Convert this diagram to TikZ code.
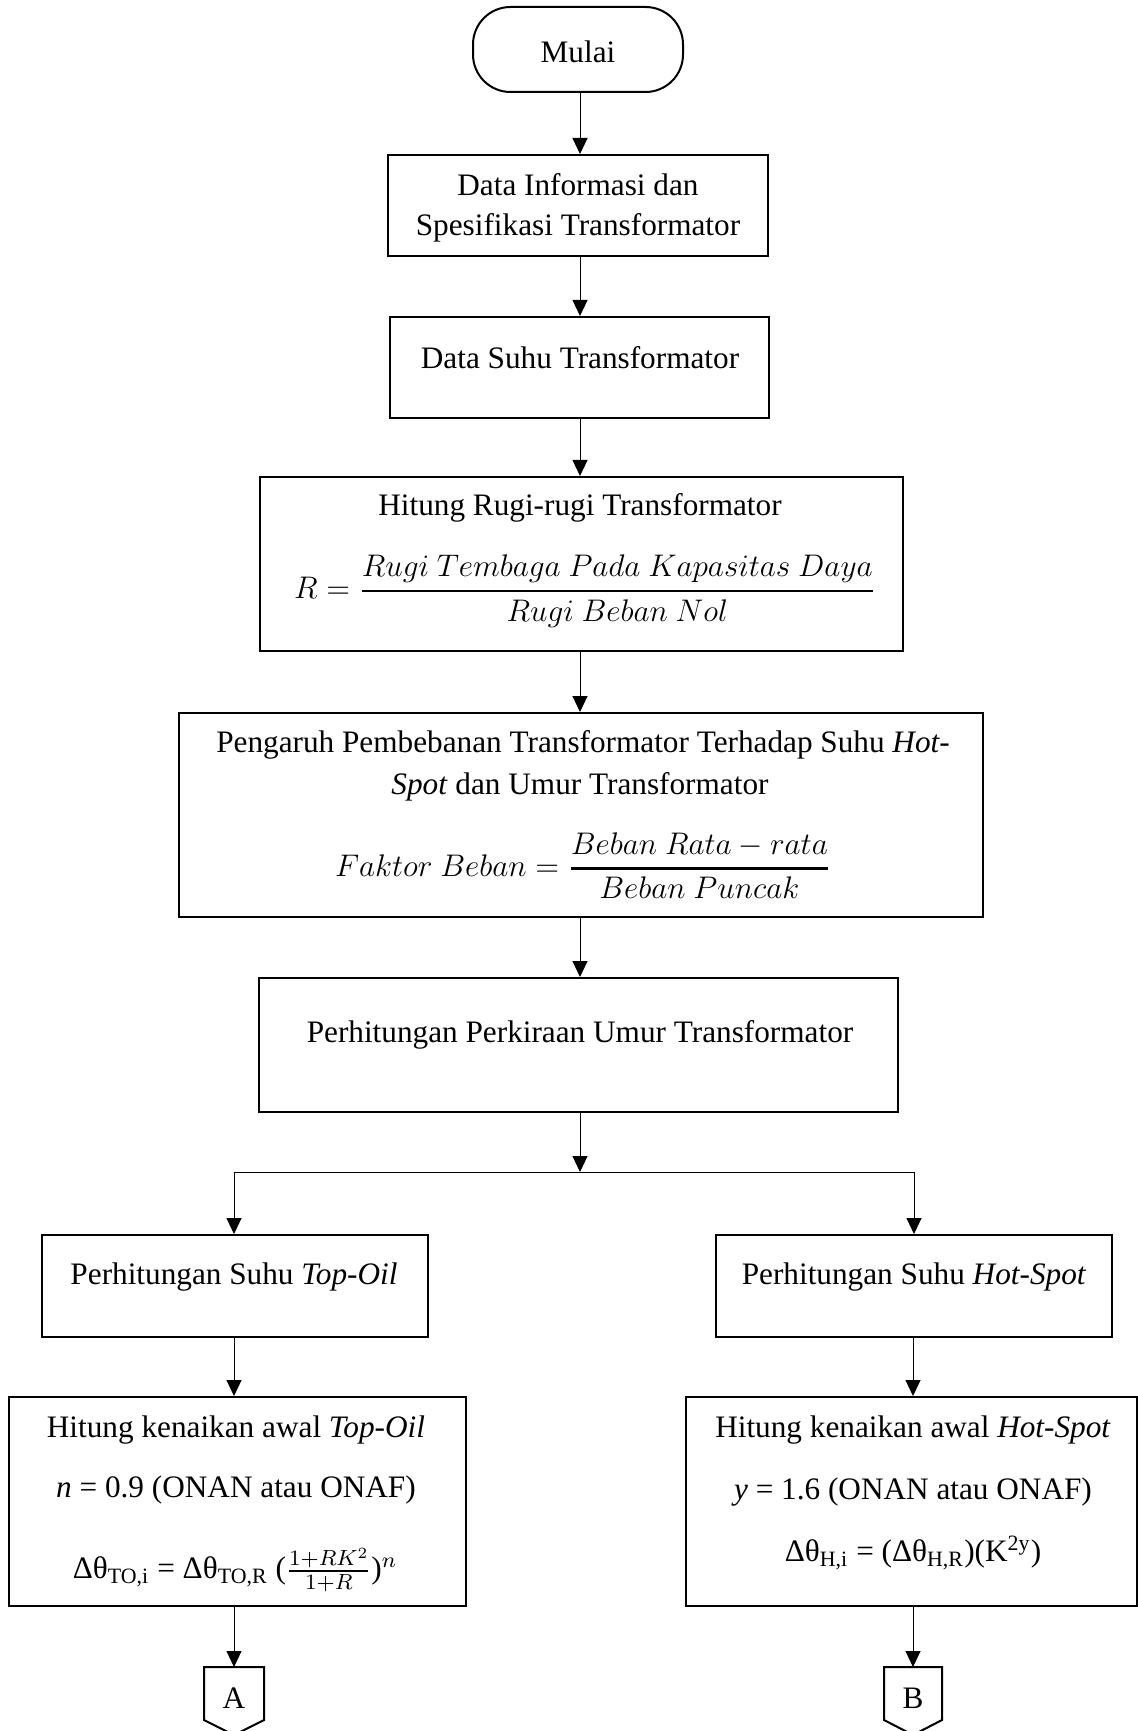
\RequirePackage{fix-cm}
\documentclass[tikz,border=0pt]{standalone}
\usepackage{amsmath}
\usepackage{fontspec}
\setmainfont{Liberation Serif}
\usetikzlibrary{arrows.meta}
\begin{document}
\begin{tikzpicture}[x=0.4pt,y=-0.4pt,
  every node/.style={font=\fontsize{12.5}{16}\selectfont, inner sep=0pt},
  boxnode/.style={draw, line width=0.8pt, inner sep=0pt},
  termnode/.style={draw, line width=0.8pt, rounded corners=15pt, inner sep=0pt},
  arr/.style={line width=0.4pt, -{Triangle[length=6.4pt,width=6pt]}},
  plain/.style={line width=0.4pt},
  offpage/.style={line width=0.8pt}]
\useasboundingbox (0,0) rectangle (1138,1731);
\fill[white] (0,0) rectangle (1138,1731);

% boxes
\node[termnode, minimum width=84pt, minimum height=34pt] (start) at (578,49.5) {};
\node[boxnode, minimum width=152pt, minimum height=40.4pt] (b1) at (578,205.5) {};
\node[boxnode, minimum width=151.6pt, minimum height=40.4pt] (b2) at (579.5,367.5) {};
\node[boxnode, minimum width=257.2pt, minimum height=69.6pt] (b3) at (581.5,564) {};
\node[boxnode, minimum width=321.6pt, minimum height=81.6pt] (b4) at (581,815) {};
\node[boxnode, minimum width=255.6pt, minimum height=53.6pt] (b5) at (578.5,1045) {};
\node[boxnode, minimum width=154.4pt, minimum height=40.8pt] (b6) at (235,1286) {};
\node[boxnode, minimum width=158.4pt, minimum height=40.8pt] (b7) at (914,1286) {};
\node[boxnode, minimum width=182.8pt, minimum height=83.6pt] (b8) at (237.5,1501.5) {};
\node[boxnode, minimum width=180.4pt, minimum height=83.6pt] (b9) at (911.5,1501.5) {};

% texts
\node (ts) at (578,52) {Mulai};
\node[align=center] (t1) at (578,208) {Data Informasi dan\\Spesifikasi Transformator};
\node (t2) at (580,358) {Data Suhu Transformator};
\node (t3) at (580,508) {Hitung Rugi-rugi Transformator};
\node (f3) at (585,591) {$R=\genfrac{}{}{1pt}{0}{Rugi\ Tembaga\ Pada\ Kapasitas\ Daya}{Rugi\ Beban\ Nol}$};
\node (t4a) at (583,745) {Pengaruh Pembebanan Transformator Terhadap Suhu \textit{Hot-}};
\node (t4b) at (580,787) {\textit{Spot} dan Umur Transformator};
\node (f4) at (583,866) {$Faktor\ Beban=\genfrac{}{}{1pt}{0}{Beban\ Rata-rata}{Beban\ Puncak}$};
\node (t5) at (580,1035) {Perhitungan Perkiraan Umur Transformator};
\node (t6) at (234,1277) {Perhitungan Suhu \textit{Top-Oil}};
\node (t7) at (914,1277) {Perhitungan Suhu \textit{Hot-Spot}};
\node (t8a) at (236,1430) {Hitung kenaikan awal \textit{Top-Oil}};
\node (t8b) at (236,1490) {\textit{n} = 0.9 (ONAN atau ONAF)};
\node (t8c) at (235,1570) {Δθ\textsubscript{TO,i} = Δθ\textsubscript{TO,R} ($\genfrac{}{}{0.8pt}{}{1+RK^{2}}{1+R}$)$^{n}$};
\node (t9a) at (913,1430) {Hitung kenaikan awal \textit{Hot-Spot}};
\node (t9b) at (913,1492) {\textit{y} = 1.6 (ONAN atau ONAF)};
\node (t9c) at (913,1553) {Δθ\textsubscript{H,i} = (Δθ\textsubscript{H,R})(K\textsuperscript{2y})};

% off-page connectors
\node (A) at (234,1698) {A};
\node (B) at (913,1698) {B};
\coordinate (Atop) at (234,1667);
\coordinate (Btop) at (913,1667);
\draw[offpage] ([xshift=-12pt]Atop) -- ([xshift=12pt]Atop) -- ++(0,53) -- (234,1735) -- (204,1720) -- cycle;
\draw[offpage] ([xshift=-11.6pt]Btop) -- ([xshift=11.6pt]Btop) -- ++(0,53) -- (913,1735) -- (884,1720) -- cycle;

% connectors
\coordinate (J) at (580,1172);
\coordinate (L) at (234,1172);
\coordinate (R) at (914,1172);
\draw[arr] (start.south -| J) -- (J |- b1.north);
\draw[arr] (b1.south -| J) -- (J |- b2.north);
\draw[arr] (b2.south -| J) -- (J |- b3.north);
\draw[arr] (b3.south -| J) -- (J |- b4.north);
\draw[arr] (b4.south -| J) -- (J |- b5.north);
\draw[arr] (b5.south -| J) -- (J);
\draw[plain] (L) -- (R);
\draw[arr] (L) -- (L |- b6.north);
\draw[arr] (R) -- (R |- b7.north);
\draw[arr] (b6.south -| L) -- (L |- b8.north);
\draw[arr] (b7.south -| Btop) -- (Btop |- b9.north);
\draw[arr] (b8.south -| Atop) -- (Atop);
\draw[arr] (b9.south -| Btop) -- (Btop);
\end{tikzpicture}
\end{document}
